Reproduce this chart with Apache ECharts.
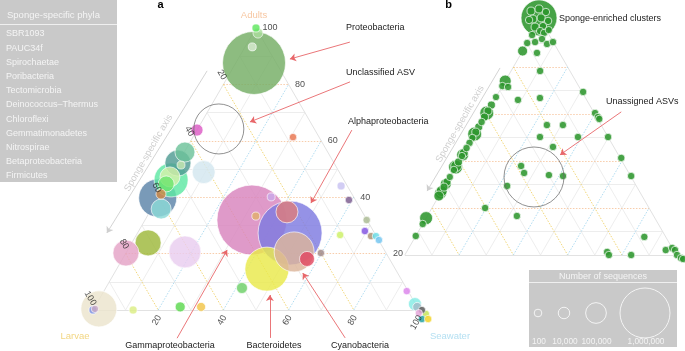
<!DOCTYPE html>
<html><head><meta charset="utf-8">
<script src="https://cdn.jsdelivr.net/npm/echarts@6/dist/echarts.min.js"></script>
<style>html,body{margin:0;padding:0;background:#fff}#c{width:685px;height:351px}</style>
</head><body><div id="c"></div>
<script>
// ---------------- DATA ----------------
// Panel a: phylum / class bubbles (percent of sequences in adults, seawater; larvae = rest)
const aAdults   = [100, 98.2, 87.6, 93.3, 63.8, 61.3, 56.0, 52.1, 51.4, 46.1, 47.2, 44.7, 39.7, 41.1, 35.8, 48.9, 23.8, 20.2, 20.6, 0.4, 0, 0.4, 0, 1.1, 1.1, 7.8, 31.9, 40.1, 33.3, 27.3, 34.8, 20.6, 18.1, 14.5, 20.2, 44.0, 39.0, 31.9, 28.0, 26.2, 26.2, 24.8, 26.6, 6.7, 2.1, 1.1, 0, -1.1, -1.4, -3.2, -3.2];
const aSeawater = [0, 1.5, 5.6, 2.2, 0, 30.7, 0.2, 0, 1.3, 0.9, 0, 0.1, 0, 0.3, 3.0, 9.5, 5.0, 0, 17.9, 1.6, 0, 0.4, 12.3, 26.2, 32.6, 41.8, 32.8, 34.6, 33.3, 46.8, 42.1, 51.4, 56.6, 46.1, 59.8, 54.1, 59.0, 68.0, 69.4, 72.2, 73.7, 75.3, 62.5, 92.9, 97.7, 98.9, 100.9, 100.5, 102.8, 102.5, 104.4];
const aSeqs     = [350, 4280, 1700000, 350, 12600, 30, 89400, 193000, 350, 392000, 89400, 42300, 518000, 4280, 89400, 136000, 193000, 193000, 336000, 453000, 350, 30, 350, 4280, 1770, 7880, 2150000, 350, 350, 1760000, 120000, 587000, 33200, 740000, 30, 350, 30, 30, 30, 30, 30, 30, 30, 30, 18400, 1770, 1, 1, 30, 30, 30];
const aColors   = ['#5fe65f','#a9dd9b','#74ad64','#d8ead0','#dc5ac4','#e8744e','#6dc29a','#4f9b92','#c4e6b0','#5ee8a4','#d4f0a8','#6ee46e','#5b84a8','#d08844','#8bd9d7','#d3e6ef','#9db83a','#e4a2c6','#e9cdef','#ece4cd','#7a90e6','#c8a8c4','#dcee84','#5cd84e','#f2c448','#6cd066','#d884bd','#caa9ea','#e2b06c','#7e7ae0','#dc7c7c','#dcb49a','#e04862','#e9e94b','#a08888','#c8c2f2','#7a5a8e','#a9b991','#8050e0','#a89070','#66dde6','#70c4f0','#ccf064','#dc84ec','#84ece4','#a4bcc8','#555555','#e4a4d8','#c4e454','#1fa0a0','#f2d21e'];
// Unclassified ASV bubble (panel a) and Unassigned ASVs bubble (panel b)
const aUnclassified = [64.2, 6.5, 1000000];   // adults, seawater, sequences
const bUnassigned   = [33.2, 31.0, 1520000];

// Panel b: ASV clusters
const bAdults   = [100.9, 103.8, 104.7, 103.4, 100.4, 100.9, 99.6, 97.0, 97.4, 100.0, 95.3, 95.7,
  93.6, 94.5, 91.9, 90.6, 90.2, 89.8, 90.6, 86.8, 86.0, 78.3, 74.0, 71.9, 71.5, 66.0, 66.8, 69.4, 60.4, 58.7, 57.9, 55.3, 55.3, 50.2, 50.2, 50.2, 46.0, 41.3, 37.9, 34.9, 34.0, 33.6, 33.6, 29.4, 20.0, 16.6, 7.7, 1.3, 0, 0, 2.1, 3.0, 2.1, 0, -1.3, -1.7,
  67.2, 63.8, 61.3, 60.4, 58.7, 56.6, 54.5, 52.3, 51.5, 49.8, 47.7, 45.5, 43.4, 42.6, 42.1, 39.6, 37.9, 37.4, 36.2, 33.2, 31.1, 30.2, 28.9, 27.2, 26.4, 25.1, 15.7, 13.2, 8.1];
const bSeawater = [-1.0, -5.4, -2.9, 0.3, -3.0, -0.2, 3.0, -0.5, 2.2, -4.2, 2.2, 5.2,
  0.1, 4.1, 4.6, 2.7, 0, 7.5, 9.3, 0, 5.7, 10.7, 0, 0, 2.3, 8.7, 16.4, 31.0, 39.9, 41.8, 42.7, 24.7, 30.6, 24.7, 38.7, 49.8, 31.6, 59.1, 23.9, 26.5, 36.1, 41.5, 66.6, 23.0, 19.6, 33.0, 84.4, 73.9, 75.2, 83.4, 95.1, 97.0, 98.5, 100.3, 102.4, 103.4,
  0, 0, 0, 0, 0, 0, 0, 0, 0, 0, 0, 0, 0, 0, 0, 0, 0, 0, 0, 0, 0, 0, 0, 0, 0, 0, 0, 0, 0];
const bSeqs     = [453000, 350, 350, 30, 350, 350, 30, 350, 30, 30, 30, 1,
  30, 30, 30, 30, 30, 30, 30, 4280, 30, 30, 12600, 30, 30, 30, 30, 30, 30, 30, 30, 30, 30, 30, 30, 30, 30, 30, 30, 30, 30, 30, 30, 30, 30, 30, 30, 30, 30, 30, 30, 30, 30, 30, 30, 30,
  1, 350, 350, 25200, 350, 30, 350, 350, 25200, 30, 30, 30, 1770, 12600, 30, 350, 7880, 25200, 30, 1, 350, 7880, 350, 7880, 12600, 4280, 18400, 30, 30];

// ternary scaffolding
const gridSteps  = [10, 20, 30, 40, 50, 60, 70, 80, 90];
const tickValues = [20, 40, 60, 80, 100];

// annotation arrows: [adults, seawater] start -> end
const aArrowFrom = [[95.0, 31.3], [80.9, 38.4], [63.8, 47.5], [-10.0, 30.8], [-9.9, 59.3], [-9.9, 82.3]];
const aArrowTo   = [[89.0, 15.9], [66.7, 14.8], [37.9, 47.9], [21.3, 30.5], [5.3, 51.6], [13.1, 57.8]];
const bArrowFrom = [[60.9, 49.3]];
const bArrowTo   = [[42.6, 35.9]];
const aAxisArrow = [[84.8, -7.4], [27.3, -9.4]];
const bAxisArrow = [[79.6, -4.7], [27.2, -5.4]];

const phyla = ['SBR1093','PAUC34f','Spirochaetae','Poribacteria','Tectomicrobia','Deinococcus\u2013Thermus','Chloroflexi','Gemmatimonadetes','Nitrospirae','Betaproteobacteria','Firmicutes'];
const sizeLegendValues = [100, 10000, 100000, 1000000];
const sizeLegendLabels = ['100', '10,000', '100,000', '1,000,000'];

// ---------------- HELPERS ----------------
const FONT = '"Liberation Sans", Arial, Helvetica, sans-serif';
function tern(A, S) { return [S / 100 + A / 200, A / 100]; }
function rad(n) { return 3.6 + 0.0214 * Math.sqrt(n); }

const COL_A = '#f7c7a2', COL_L = '#f0d36a', COL_S = '#a7d8ef';

function lineSeries(p, data, color, type, width, z, sym) {
  return {
    type: 'lines', coordinateSystem: 'cartesian2d', xAxisIndex: p, yAxisIndex: p,
    data: data, polyline: false, silent: true, z: z, animation: false,
    symbol: sym || 'none', symbolSize: 6,
    lineStyle: { color: color, width: width, type: type, opacity: 1, curveness: 0 }
  };
}

function gridSeries(p) {
  const solid = [], dA = [], dL = [], dS = [];
  gridSteps.forEach(v => {
    const ad = { coords: [tern(v, 0), tern(v, 100 - v)] };
    const la = { coords: [tern(100 - v, 0), tern(0, 100 - v)] };
    const se = { coords: [tern(0, v), tern(100 - v, v)] };
    if (v % 20 === 0) { dA.push(ad); dL.push(la); dS.push(se); }
    else { solid.push(ad, la, se); }
  });
  const outline = [
    { coords: [tern(0, 0), tern(100, 0)] },
    { coords: [tern(100, 0), tern(0, 100)] },
    { coords: [tern(0, 100), tern(0, 0)] }
  ];
  return [
    lineSeries(p, solid, '#e9e9e9', 'solid', 0.8, 1),
    lineSeries(p, outline, '#e2e2e2', 'solid', 1, 1),
    lineSeries(p, dA, COL_A, [1.5, 1.5], 0.9, 2),
    lineSeries(p, dL, COL_L, [1.5, 1.5], 0.9, 2),
    lineSeries(p, dS, COL_S, [1.5, 1.5], 0.9, 2)
  ];
}

function bubbleSeries(p, adults, sea, seqs, colors, opacity) {
  const idx = seqs.map((_, i) => i).sort((a, b) => seqs[b] - seqs[a]);
  return {
    type: 'scatter', xAxisIndex: p, yAxisIndex: p, silent: true, animation: false, z: 5,
    data: idx.map(i => ({ value: tern(adults[i], sea[i]).concat([seqs[i]]), itemStyle: { color: colors ? colors[i] : '#2e962e' } })),
    symbolSize: v => 2 * rad(v[2]),
    itemStyle: { opacity: opacity, borderColor: '#ffffff', borderWidth: 0.8 }
  };
}

function outlineBubble(p, rec) {
  return {
    type: 'scatter', xAxisIndex: p, yAxisIndex: p, silent: true, animation: false, z: 6,
    data: [{ value: tern(rec[0], rec[1]).concat([rec[2]]) }],
    symbolSize: v => 2 * rad(v[2]),
    itemStyle: { color: 'rgba(0,0,0,0)', borderColor: '#666', borderWidth: 0.9 }
  };
}

function tickSeries(data, label) {
  return {
    type: 'scatter', xAxisIndex: 0, yAxisIndex: 0, silent: true, animation: false, z: 7,
    symbolSize: 1, itemStyle: { color: 'rgba(0,0,0,0)' },
    data: data,
    label: Object.assign({ show: true, formatter: '{b}', fontSize: 9, color: '#222', fontFamily: FONT }, label)
  };
}

function arrows(p, from, to, color, z) {
  const data = from.map((f, i) => ({ coords: [tern(f[0], f[1]), tern(to[i][0], to[i][1])] }));
  return lineSeries(p, data, color, 'solid', 0.9, z, ['none', 'arrow']);
}

// ---------------- SERIES ----------------
const series = [];
series.push(...gridSeries(0), ...gridSeries(1));
series.push(bubbleSeries(0, aAdults, aSeawater, aSeqs, aColors, 0.82));
series.push(bubbleSeries(1, bAdults, bSeawater, bSeqs, null, 0.88));
series.push(outlineBubble(0, aUnclassified), outlineBubble(1, bUnassigned));

series.push(tickSeries(tickValues.map(v => ({ name: String(v), value: tern(v, 100 - v) })),
  { position: 'right', distance: 6 }));
series.push(tickSeries(tickValues.map(v => ({ name: String(v), value: tern(100 - v, 0) })),
  { position: 'inside', align: 'right', verticalAlign: 'middle', rotate: -60, offset: [-4, -3.5] }));
series.push(tickSeries(tickValues.map(v => ({ name: String(v), value: tern(0, v) })),
  { position: 'inside', align: 'right', verticalAlign: 'middle', rotate: 60, offset: [-4.5, 4] }));

series.push(arrows(0, aArrowFrom, aArrowTo, '#e8676a', 8));
series.push(arrows(1, bArrowFrom, bArrowTo, '#e8676a', 8));
series.push(arrows(0, [aAxisArrow[0]], [aAxisArrow[1]], '#cfcfcf', 3));
series.push(arrows(1, [bAxisArrow[0]], [bAxisArrow[1]], '#cfcfcf', 3));

// ---------------- GRAPHICS (text, legends) ----------------
const g = [];
function txt(x, y, text, o) {
  g.push({ type: 'text', x: x, y: y, rotation: (o && o.rot) || 0, z: 20, silent: true,
    style: Object.assign({ text: text, fontFamily: FONT, fontSize: 9, fill: '#222', align: 'left', verticalAlign: 'middle' }, (o && o.style) || {}) });
}
txt(160.5, 5, 'a', { style: { fontWeight: 'bold', fontSize: 11, align: 'center', fill: '#000' } });
txt(448.5, 5, 'b', { style: { fontWeight: 'bold', fontSize: 11, align: 'center', fill: '#000' } });
txt(254, 15, 'Adults', { style: { align: 'center', fill: COL_A, fontSize: 9.5 } });
txt(75, 336, 'Larvae', { style: { align: 'center', fill: '#f2d683', fontSize: 9.5 } });
txt(450, 336, 'Seawater', { style: { align: 'center', fill: '#b5e0f2', fontSize: 9.5 } });
txt(346, 28, 'Proteobacteria');
txt(346, 73, 'Unclassified ASV');
txt(348, 122, 'Alphaproteobacteria');
txt(170, 346, 'Gammaproteobacteria', { style: { align: 'center' } });
txt(274, 346, 'Bacteroidetes', { style: { align: 'center' } });
txt(360, 346, 'Cyanobacteria', { style: { align: 'center' } });
txt(559, 19, 'Sponge-enriched clusters');
txt(606, 102, 'Unassigned ASVs');
txt(148.5, 153, 'Sponge-specific axis', { rot: Math.PI / 3, style: { align: 'center', fill: '#cfcfcf', fontSize: 9.5 } });
txt(460, 124, 'Sponge-specific axis', { rot: Math.PI / 3, style: { align: 'center', fill: '#cfcfcf', fontSize: 9.5 } });

// phyla box
g.push({ type: 'rect', shape: { x: 0, y: 0, width: 117, height: 182 }, style: { fill: '#c9c9c9' }, z: 15, silent: true });
g.push({ type: 'line', shape: { x1: 0, y1: 24.5, x2: 117, y2: 24.5 }, style: { stroke: '#efefef', lineWidth: 1 }, z: 16, silent: true });
txt(7, 15, 'Sponge-specific phyla', { style: { fill: '#f4f4f4', fontSize: 9.5 } });
phyla.forEach((p, i) => txt(6, 34 + i * 14.2, p, { style: { fill: '#f4f4f4', fontSize: 9 } }));

// size legend
g.push({ type: 'rect', shape: { x: 529, y: 270, width: 148, height: 77 }, style: { fill: '#c9c9c9' }, z: 15, silent: true });
g.push({ type: 'line', shape: { x1: 529, y1: 282.5, x2: 677, y2: 282.5 }, style: { stroke: '#efefef', lineWidth: 1 }, z: 16, silent: true });
txt(603, 276.5, 'Number of sequences', { style: { fill: '#f4f4f4', fontSize: 9, align: 'center' } });
const legX = [538, 564, 596, 645];
const legLabelX = [539, 565, 596.5, 646];
sizeLegendValues.forEach((v, i) => {
  g.push({ type: 'circle', shape: { cx: legX[i], cy: 313, r: rad(v) }, style: { fill: 'none', stroke: '#f4f4f4', lineWidth: 1 }, z: 16, silent: true });
  txt(legLabelX[i], 342, sizeLegendLabels[i], { style: { fill: '#f4f4f4', fontSize: 8.3, align: 'center' } });
});

// ---------------- CHART ----------------
const chart = echarts.init(document.getElementById('c'), null, { renderer: 'canvas', width: 685, height: 351 });
chart.setOption({
  animation: false,
  backgroundColor: '#ffffff',
  grid: [
    { left: 0, top: 0, width: 685, height: 351 },
    { left: 0, top: 0, width: 685, height: 351 }
  ],
  xAxis: [
    { gridIndex: 0, type: 'value', min: -93 / 326, max: (685 - 93) / 326, show: false },
    { gridIndex: 1, type: 'value', min: -404.8 / 271.4, max: (685 - 404.8) / 271.4, show: false }
  ],
  yAxis: [
    { gridIndex: 0, type: 'value', min: (310 - 351) / 282, max: 310 / 282, show: false },
    { gridIndex: 1, type: 'value', min: (255 - 351) / 235, max: 255 / 235, show: false }
  ],
  series: series,
  graphic: g
});
</script>
</body></html>
